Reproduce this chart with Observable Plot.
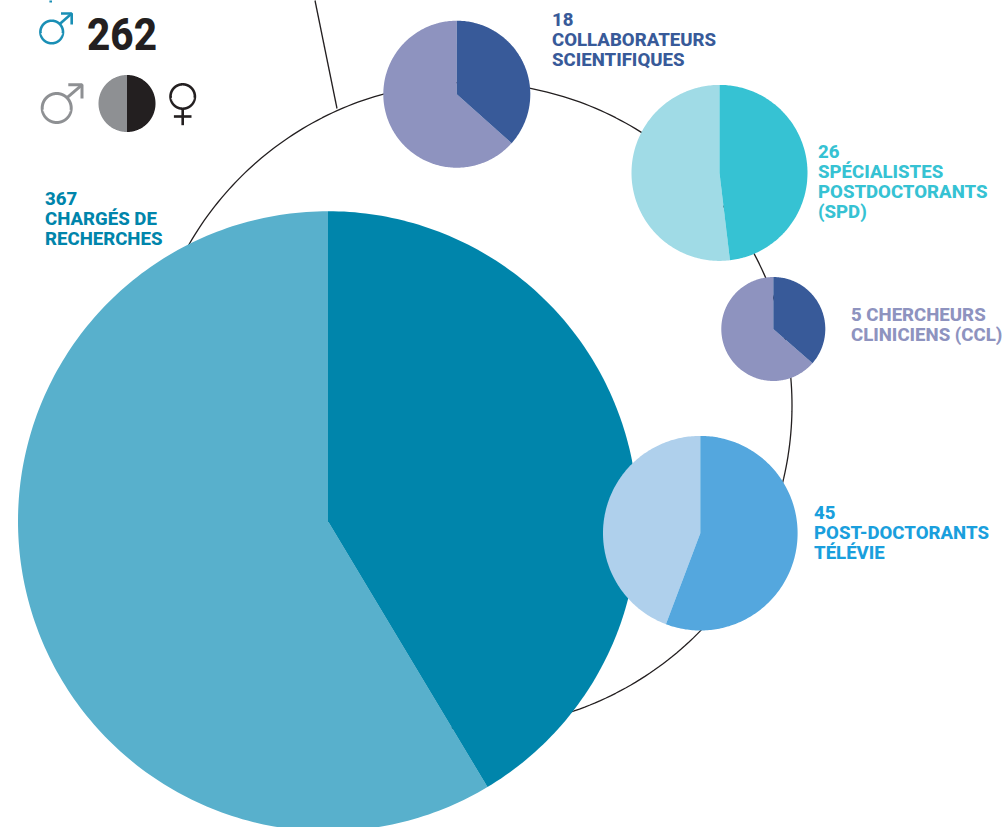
<!DOCTYPE html>
<html lang="fr">
<head>
<meta charset="utf-8">
<script src="https://cdn.jsdelivr.net/npm/d3@7"></script>
<script src="https://cdn.jsdelivr.net/npm/@observablehq/plot@0.6"></script>
<style>html,body{margin:0;padding:0;background:#fff}svg{display:block}</style>
</head>
<body>
<script>
// Data
const categories = ["CHARGÉS DE\nRECHERCHES", "COLLABORATEURS\nSCIENTIFIQUES", "SPÉCIALISTES\nPOSTDOCTORANTS\n(SPD)", "CHERCHEURS\nCLINICIENS (CCL)", "POST-DOCTORANTS\nTÉLÉVIE"];
const totals = [367, 18, 26, 5, 45];
const maleShares = [0.414, 0.366, 0.481, 0.364, 0.5575];
const legendCount = 262;
const legendShare = [0.5];

// Layout and style
const centerX = [327.5, 456.3, 719, 772.8, 699.8];
const centerY = [520.7, 93.7, 172.4, 328.5, 532.7];
const radius = [310, 73.5, 88, 52, 97.3];
const darkColors = ["#0085ab", "#385a99", "#36c2d3", "#385a99", "#54a7de"];
const lightColors = ["#58b0cc", "#8e93bf", "#a0dbe6", "#8e93bf", "#afd0ec"];
const labelColors = ["#0085ab", "#385a99", "#36c2d3", "#8e93bf", "#1a9fdd"];
const labelX = [44.5, 551.5, 817.5, 850.5, 813.5];
const labelY = [189.8, 11.3, 143.3, 306.3, 504.3];
const ring = {x: 468.5, y: 405, r: 323};

function sector(cx, cy, r, from, to) {
  const steps = Math.max(2, Math.ceil((to - from) * 360));
  const pts = from === 0 && to === 1 ? [] : [{x: cx, y: cy}];
  for (let i = 0; i <= steps; ++i) {
    const a = 2 * Math.PI * (from + (to - from) * i / steps);
    pts.push({x: cx + r * Math.sin(a), y: cy - r * Math.cos(a)});
  }
  return pts;
}
const fillSector = (pts, fill) => Plot.line(pts, {x: "x", y: "y", fill, stroke: "none", curve: "linear"});
const stroke = (pts, color, strokeWidth) => Plot.line(pts, {x: "x", y: "y", stroke: color, strokeWidth, fill: "none", strokeLinejoin: "miter", strokeLinecap: "butt"});
const seg = (...c) => c.map(([x, y]) => ({x, y}));

// Gender icons drawn as marks: circle plus arrow or cross
function maleIcon(cx, cy, r, tip, headFrom, shaftFrom, color, w) {
  return [
    stroke(sector(cx, cy, r, 0, 1), color, w),
    stroke(seg(shaftFrom, tip), color, w),
    stroke(seg([headFrom[0], tip[1]], tip, [tip[0], headFrom[1]]), color, w)
  ];
}
function femaleIcon(cx, cy, r, bottom, barY, barHalf, color, w) {
  return [
    stroke(sector(cx, cy, r, 0, 1), color, w),
    stroke(seg([cx, cy + r], [cx, bottom]), color, w),
    stroke(seg([cx - barHalf, barY], [cx + barHalf, barY]), color, w)
  ];
}

const labelText = categories.map((c, i) => i === 3 ? `${totals[i]} ${c}` : `${totals[i]}\n${c}`);
const textStyle = {fontFamily: "Roboto, sans-serif", fontWeight: 800, textAnchor: "start", lineAnchor: "top"};

const chart = Plot.plot({
  width: 1007,
  height: 827,
  margin: 0,
  x: {domain: [0, 1007], range: [0, 1007], axis: null},
  y: {domain: [0, 827], range: [0, 827], axis: null},
  marks: [
    stroke(sector(ring.x, ring.y, ring.r, 0, 1), "#231f20", 1.3),
    stroke(seg([314.5, 0], [336.5, 108]), "#231f20", 1.3),
    ...totals.flatMap((_, i) => [
      fillSector(sector(centerX[i], centerY[i], radius[i], maleShares[i], 1), lightColors[i]),
      fillSector(sector(centerX[i], centerY[i], radius[i], 0, maleShares[i]), darkColors[i])
    ]),
    fillSector(sector(126.5, 103, 28.5, 0, legendShare[0]), "#231f20"),
    fillSector(sector(126.5, 103, 28.5, legendShare[0], 1), "#8e9093"),
    ...labelText.map((t, i) => Plot.text([t], {
      ...textStyle, x: labelX[i], y: labelY[i], text: d => d, fill: labelColors[i], fontSize: 18.6, lineHeight: 1.08
    })),
    Plot.text([String(legendCount)], {...textStyle, x: 86.5, y: 18, text: d => d, fill: "#231f20", fontSize: 45, className: "count"}),
    ...maleIcon(51.2, 31.5, 11.3, [71.2, 13], [60.5, 24], [59.5, 23.2], "#1a8fb5", 2.6),
    ...maleIcon(56.2, 107.5, 14.5, [81.5, 84.3], [67.8, 98], [66.6, 97.2], "#8e9093", 3),
    ...femaleIcon(182.2, 96, 12.2, 124.7, 116, 8.8, "#231f20", 2.6),
    stroke(seg([50.2, 0], [50.2, 2]), "#1a8fb5", 2.6)
  ]
});
document.body.append(chart);
// The reference's count is set in a condensed cut: fit the real text to its width
const countText = chart.querySelector(".count text");
if (countText) {
  countText.setAttribute("textLength", 70);
  countText.setAttribute("lengthAdjust", "spacingAndGlyphs");
}
</script>
</body>
</html>
